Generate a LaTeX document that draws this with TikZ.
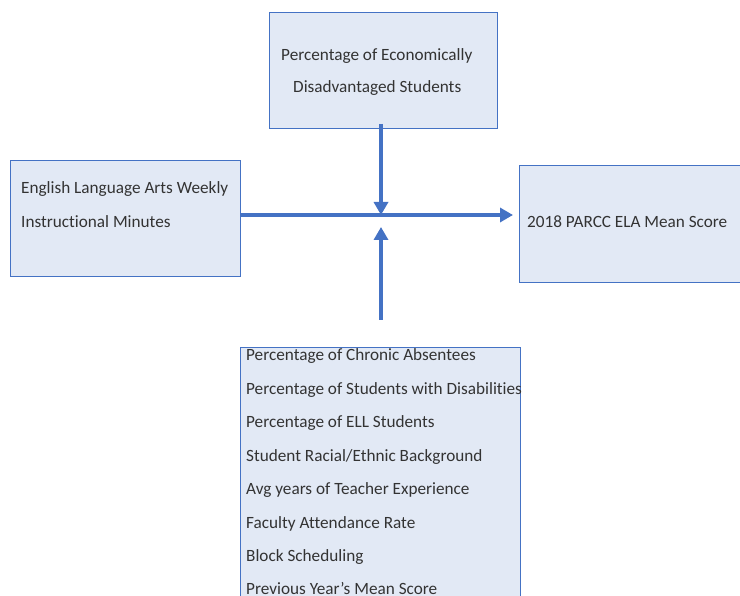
\documentclass[tikz,border=0pt]{standalone}
\usepackage{fontspec}
\setmainfont{Carlito}[Ligatures=NoCommon]
\usetikzlibrary{arrows.meta}
\definecolor{boxfill}{HTML}{E2E9F5}
\definecolor{boxline}{HTML}{4472C4}
\definecolor{flowblue}{HTML}{4472C4}

\begin{document}
\begin{tikzpicture}[x=1pt,y=-1pt,
  box/.style={draw=boxline, fill=boxfill, line width=0.8pt, anchor=north west, inner sep=0pt},
  txt/.style={anchor=base west, inner sep=0pt, font=\fontsize{17.2}{20}\selectfont, text=black!80},
  flow/.style={draw=flowblue, line width=4pt, -{Triangle[length=13pt,width=14pt]}}]

\useasboundingbox (0,0) rectangle (740,596);

% boxes
\node[box, minimum width=228, minimum height=116] (econ) at (269,12) {};
\node[box, minimum width=230, minimum height=116] (instr) at (10,160) {};
\node[box, minimum width=221, minimum height=117] (score) at (519,165) {};
\begin{scope}
  \clip (0,0) rectangle (740,596);
  \node[box, minimum width=280, minimum height=270] (factors) at (240,347) {};
\end{scope}

% texts
\node[txt] (econ1) at (281,61) {Percentage of Economically};
\node[txt] (econ2) at (293,93) {Disadvantaged Students};
\node[txt] (instr1) at (21,194) {English Language Arts Weekly};
\node[txt] (instr2) at (21,228) {Instructional Minutes};
\node[txt] (score1) at (527,228) {2018 PARCC ELA Mean Score};
\foreach \line [count=\i from 0] in {Percentage of Chronic Absentees,
    Percentage of Students with Disabilities, Percentage of ELL Students,
    Student Racial/Ethnic Background, Avg years of Teacher Experience,
    Faculty Attendance Rate, Block Scheduling, Previous Year’s Mean Score}
  \node[txt] (factor\i) at (246,{361+33.4*\i}) {\line};

% arrows
\coordinate (hub) at (381,215);
\coordinate (src) at (381,320);
\draw[flow, shorten <=-5pt] (econ.south -| hub) -- (hub);
\draw[flow, shorten >=12pt] (src) -- (hub);
\draw[flow, shorten >=6pt] (instr.east |- hub) -- (score.west |- hub);

\end{tikzpicture}
\end{document}
